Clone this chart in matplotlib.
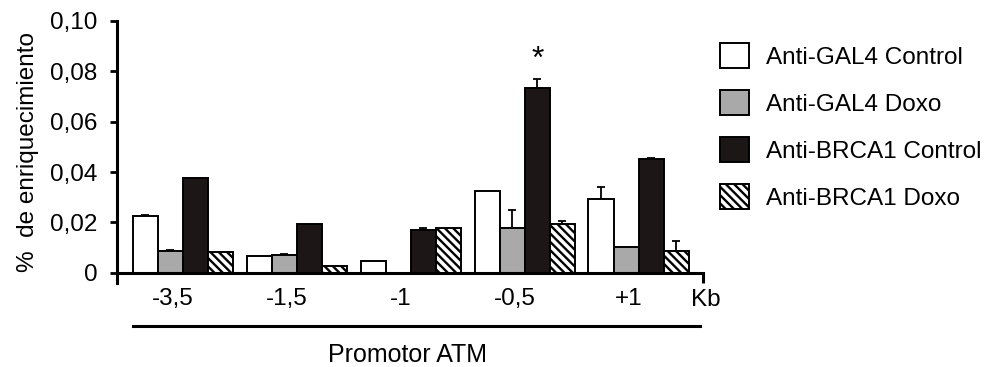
import numpy as np
import matplotlib
matplotlib.use('Agg')
import matplotlib.pyplot as plt
from matplotlib.lines import Line2D

plt.rcParams['font.family'] = ['Liberation Sans', 'DejaVu Sans']
plt.rcParams['hatch.linewidth'] = 1.7

# data
positions = ['-3,5', '-1,5', '-1', '-0,5', '+1']
series = ['Anti-GAL4 Control', 'Anti-GAL4 Doxo', 'Anti-BRCA1 Control', 'Anti-BRCA1 Doxo']
gal4_control = [0.0226, 0.0067, 0.0048, 0.0325, 0.0295]
gal4_doxo = [0.0087, 0.0071, 0.0, 0.0177, 0.0104]
brca1_control = [0.0377, 0.0195, 0.0171, 0.0735, 0.0451]
brca1_doxo = [0.0083, 0.0028, 0.0177, 0.0193, 0.0085]
gal4_control_err = [0.0003, 0.0, 0.0, 0.0, 0.0046]
gal4_doxo_err = [0.0003, 0.0005, 0.0, 0.0073, 0.0]
brca1_control_err = [0.0, 0.0, 0.0008, 0.0036, 0.0003]
brca1_doxo_err = [0.0, 0.0, 0.0, 0.0011, 0.0041]
yticks = [0, 0.02, 0.04, 0.06, 0.08, 0.10]
ytick_labels = ['0', '0,02', '0,04', '0,06', '0,08', '0,10']

values = [gal4_control, gal4_doxo, brca1_control, brca1_doxo]
errors = [gal4_control_err, gal4_doxo_err, brca1_control_err, brca1_doxo_err]
fills = ['white', '#a9a9a9', '#1c1616', 'white']
hatches = [None, None, None, '\\\\\\\\']

fig = plt.figure(figsize=(9.84, 3.67), dpi=100)
ax = fig.add_axes([0.1189, 0.229, 0.5955, 0.714])

x = np.arange(len(positions))
w = 0.22
handles = []
for k in range(4):
    xs = x + (k - 1.5) * w
    b = ax.bar(xs, values[k], width=w, color=fills[k], edgecolor='black',
               linewidth=1.4, hatch=hatches[k], label=series[k], zorder=2)
    handles.append(b)
    err = np.array(errors[k])
    m = err > 0
    ax.errorbar(xs[m], np.array(values[k])[m], yerr=[np.zeros(m.sum()), err[m]],
                fmt='none', ecolor='black', elinewidth=1.3, capsize=3,
                capthick=1.3, zorder=1)

# significance mark over Anti-BRCA1 Control at -0,5
ax.text(x[3] + 0.5 * w, brca1_control[3] + brca1_control_err[3] + 0.0075, '*',
        ha='center', va='center', fontsize=23)

ax.set_xlim(-0.579, 4.565)
ax.set_ylim(-0.004, 0.10)
ax.set_yticks(yticks)
ax.set_yticklabels(ytick_labels)
ax.tick_params(axis='y', direction='out', length=5, width=2, pad=9, labelsize=17.5)
ax.set_xticks(x - 0.09)
ax.set_xticklabels(positions)
ax.tick_params(axis='x', length=0, pad=11, labelsize=17.5)
ax.set_xticks([4.565], minor=True)
ax.tick_params(axis='x', which='minor', direction='out', length=7, width=2.2)

for s in ['top', 'right']:
    ax.spines[s].set_visible(False)
ax.spines['bottom'].set_position(('data', 0))
ax.spines['bottom'].set_linewidth(2.2)
ax.spines['left'].set_linewidth(2.2)

ax.set_ylabel('%  de enriquecimiento', fontsize=17.5, labelpad=8)
ax.text(4.59, -0.0107, 'Kb', ha='center', va='center', fontsize=17.5, clip_on=False)

# bracket line under the positions and its caption
fig.add_artist(Line2D([133 / 984, 700 / 984], [1 - 326 / 367] * 2, color='black', linewidth=2.2))
fig.text(407 / 984, 1 - 355 / 367, 'Promotor ATM', ha='center', va='center', fontsize=18)

fig.legend(handles=handles, loc='upper left', bbox_to_anchor=(720 / 984, 1 - 43 / 367),
           frameon=False, fontsize=17.5, handlelength=1.2, handleheight=1.2,
           handletextpad=0.7, labelspacing=0.88, borderpad=0, borderaxespad=0)

fig.savefig('out.png', dpi=100)
